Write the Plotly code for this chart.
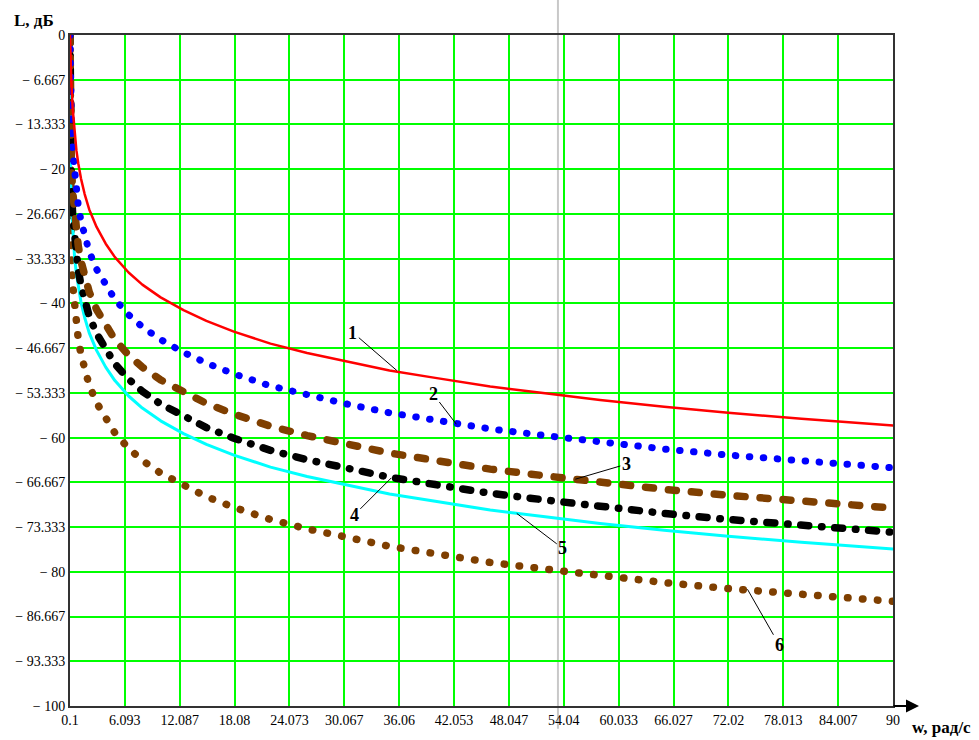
import plotly.graph_objects as go

# ---- data ----
w = [0.1, 0.15, 0.25, 0.4, 0.6, 0.8, 1, 1.3, 1.7, 2.2, 3, 4, 5, 6.5, 8, 10, 12.5, 15, 18, 22,
     26, 30, 35, 40, 46, 52, 58, 65, 72, 80, 90]
L1 = [0, -2.6, -7.1, -11.1, -14.7, -17.2, -19.1, -21.4, -23.7, -26.0, -28.6, -31.1, -33.1, -35.4,
      -37.2, -39.1, -41.0, -42.6, -44.2, -46.0, -47.4, -48.6, -50.0, -51.1, -52.4, -53.4, -54.4,
      -55.4, -56.3, -57.2, -58.2]
L2 = [0, -8.9, -13.4, -17.4, -21.0, -23.5, -25.4, -27.7, -30.0, -32.3, -34.9, -37.4, -39.4, -41.7,
      -43.5, -45.4, -47.3, -48.9, -50.5, -52.3, -53.7, -54.9, -56.3, -57.4, -58.7, -59.7, -60.7,
      -61.7, -62.6, -63.5, -64.5]
L3 = [0, -14.9, -19.4, -23.4, -27.0, -29.5, -31.4, -33.7, -36.0, -38.3, -40.9, -43.4, -45.4, -47.7,
      -49.5, -51.4, -53.3, -54.9, -56.5, -58.3, -59.7, -60.9, -62.3, -63.4, -64.7, -65.7, -66.7,
      -67.7, -68.6, -69.5, -70.5]
L4 = [0, -18.5, -23.0, -27.0, -30.6, -33.1, -35.0, -37.3, -39.6, -41.9, -44.5, -47.0, -49.0, -51.3,
      -53.1, -55.0, -56.9, -58.5, -60.1, -61.9, -63.3, -64.5, -65.9, -67.0, -68.3, -69.3, -70.3,
      -71.3, -72.2, -73.1, -74.1]
L5 = [0, -21.0, -25.5, -29.5, -33.1, -35.6, -37.5, -39.8, -42.1, -44.4, -47.0, -49.5, -51.5, -53.8,
      -55.6, -57.5, -59.4, -61.0, -62.6, -64.4, -65.8, -67.0, -68.4, -69.5, -70.8, -71.8, -72.8,
      -73.8, -74.7, -75.6, -76.6]
L6 = [0, -28.8, -33.3, -37.3, -40.9, -43.4, -45.3, -47.6, -49.9, -52.2, -54.8, -57.3, -59.3, -61.6,
      -63.4, -65.3, -67.2, -68.8, -70.4, -72.2, -73.6, -74.8, -76.2, -77.3, -78.6, -79.6, -80.6,
      -81.6, -82.5, -83.4, -84.4]

x_ticks = [0.1, 6.093, 12.087, 18.08, 24.073, 30.067, 36.06, 42.053, 48.047, 54.04, 60.033,
           66.027, 72.02, 78.013, 84.007, 90]
x_tick_text = ["0.1", "6.093", "12.087", "18.08", "24.073", "30.067", "36.06", "42.053", "48.047",
               "54.04", "60.033", "66.027", "72.02", "78.013", "84.007", "90"]
y_ticks = [0, -6.667, -13.333, -20, -26.667, -33.333, -40, -46.667, -53.333, -60, -66.667,
           -73.333, -80, -86.667, -93.333, -100]
y_tick_text = ["0", "\u2212 6.667", "\u2212 13.333", "\u2212 20", "\u2212 26.667", "\u2212 33.333",
               "\u2212 40", "\u2212 46.667", "\u2212 53.333", "\u2212 60", "\u2212 66.667",
               "\u2212 73.333", "\u2212 80", "\u2212 86.667", "\u2212 93.333", "\u2212 100"]
curve_labels = ["1", "2", "3", "4", "5", "6"]
marker_w = 53.4  # grey vertical cursor line

SERIF = "Liberation Serif, Times New Roman, serif"

fig = go.Figure()
series = [
    (L6, dict(color="#7f3f00", width=7.5, dash="0.5px,14.5px")),
    (L5, dict(color="#00ffff", width=3)),
    (L4, dict(color="#000000", width=7.5, dash="8px,12.8px,0.5px,12.7px")),
    (L3, dict(color="#7f3f00", width=7.5, dash="8px,15px")),
    (L2, dict(color="#0000ff", width=7, dash="0.5px,13.5px")),
    (L1, dict(color="#ff0000", width=2.5)),
]
for ys, ln in series:
    fig.add_trace(go.Scatter(x=w, y=ys, mode="lines", line=ln, showlegend=False,
                             hoverinfo="skip"))

axis_common = dict(showgrid=True, gridcolor="#00ff00", gridwidth=2, zeroline=False,
                   showline=True, linecolor="#333333", linewidth=2, mirror=True,
                   ticks="", layer="below traces",
                   tickfont=dict(family=SERIF, size=14, color="#000000"))
fig.update_xaxes(range=[0.1, 90], tickmode="array", tickvals=x_ticks, ticktext=x_tick_text,
                 **axis_common)
fig.update_yaxes(range=[-100, 0], tickmode="array", tickvals=y_ticks, ticktext=y_tick_text,
                 **axis_common)

# grey vertical cursor
fig.add_shape(type="line", xref="x", yref="paper", x0=marker_w, x1=marker_w,
              y0=-0.034, y1=1.052, line=dict(color="#c8c8c8", width=2), layer="below")

# curve labels with leader lines (head point on curve, text offset in px)
label_pts = [(35.8, -50.0, -44, -38), (42.3, -58.0, -23, -30), (55.3, -66.2, 51, -15),
             (35.2, -66.0, -37, 37), (48.9, -71.3, 46, 35), (74.1, -82.6, 32, 56)]
for lab, (xp, yp, ax, ay) in zip(curve_labels, label_pts):
    fig.add_annotation(x=xp, y=yp, ax=ax, ay=ay, text="<b>%s</b>" % lab, showarrow=True,
                       arrowhead=0, arrowwidth=1, arrowcolor="#000000",
                       font=dict(family=SERIF, size=18, color="#000000"))

# axis titles
fig.add_annotation(xref="paper", yref="paper", x=-0.0437, y=1.0222, text="<b>L, дБ</b>",
                   showarrow=False, xanchor="center", yanchor="middle",
                   font=dict(family=SERIF, size=17, color="#000000"))
fig.add_annotation(xref="paper", yref="paper", x=1.0207, y=-0.0326, text="<b>w, рад/с</b>",
                   showarrow=False, xanchor="left", yanchor="middle",
                   font=dict(family=SERIF, size=17, color="#000000"))
# x-axis arrow
fig.add_annotation(xref="paper", yref="paper", x=1.0316, y=0, ax=-27, ay=0, text="",
                   showarrow=True, arrowhead=2, arrowsize=1.3, arrowwidth=2,
                   arrowcolor="#000000")

fig.update_layout(width=979, height=740, margin=dict(l=70, r=86, t=35, b=30),
                  paper_bgcolor="white", plot_bgcolor="white")

post = ("var s=document.createElement('style');"
        "s.innerHTML='.scatterlayer .js-line{stroke-linecap:round;stroke-linejoin:round;}';"
        "document.head.appendChild(s);")
fig.write_html("out.html", post_script=post)
